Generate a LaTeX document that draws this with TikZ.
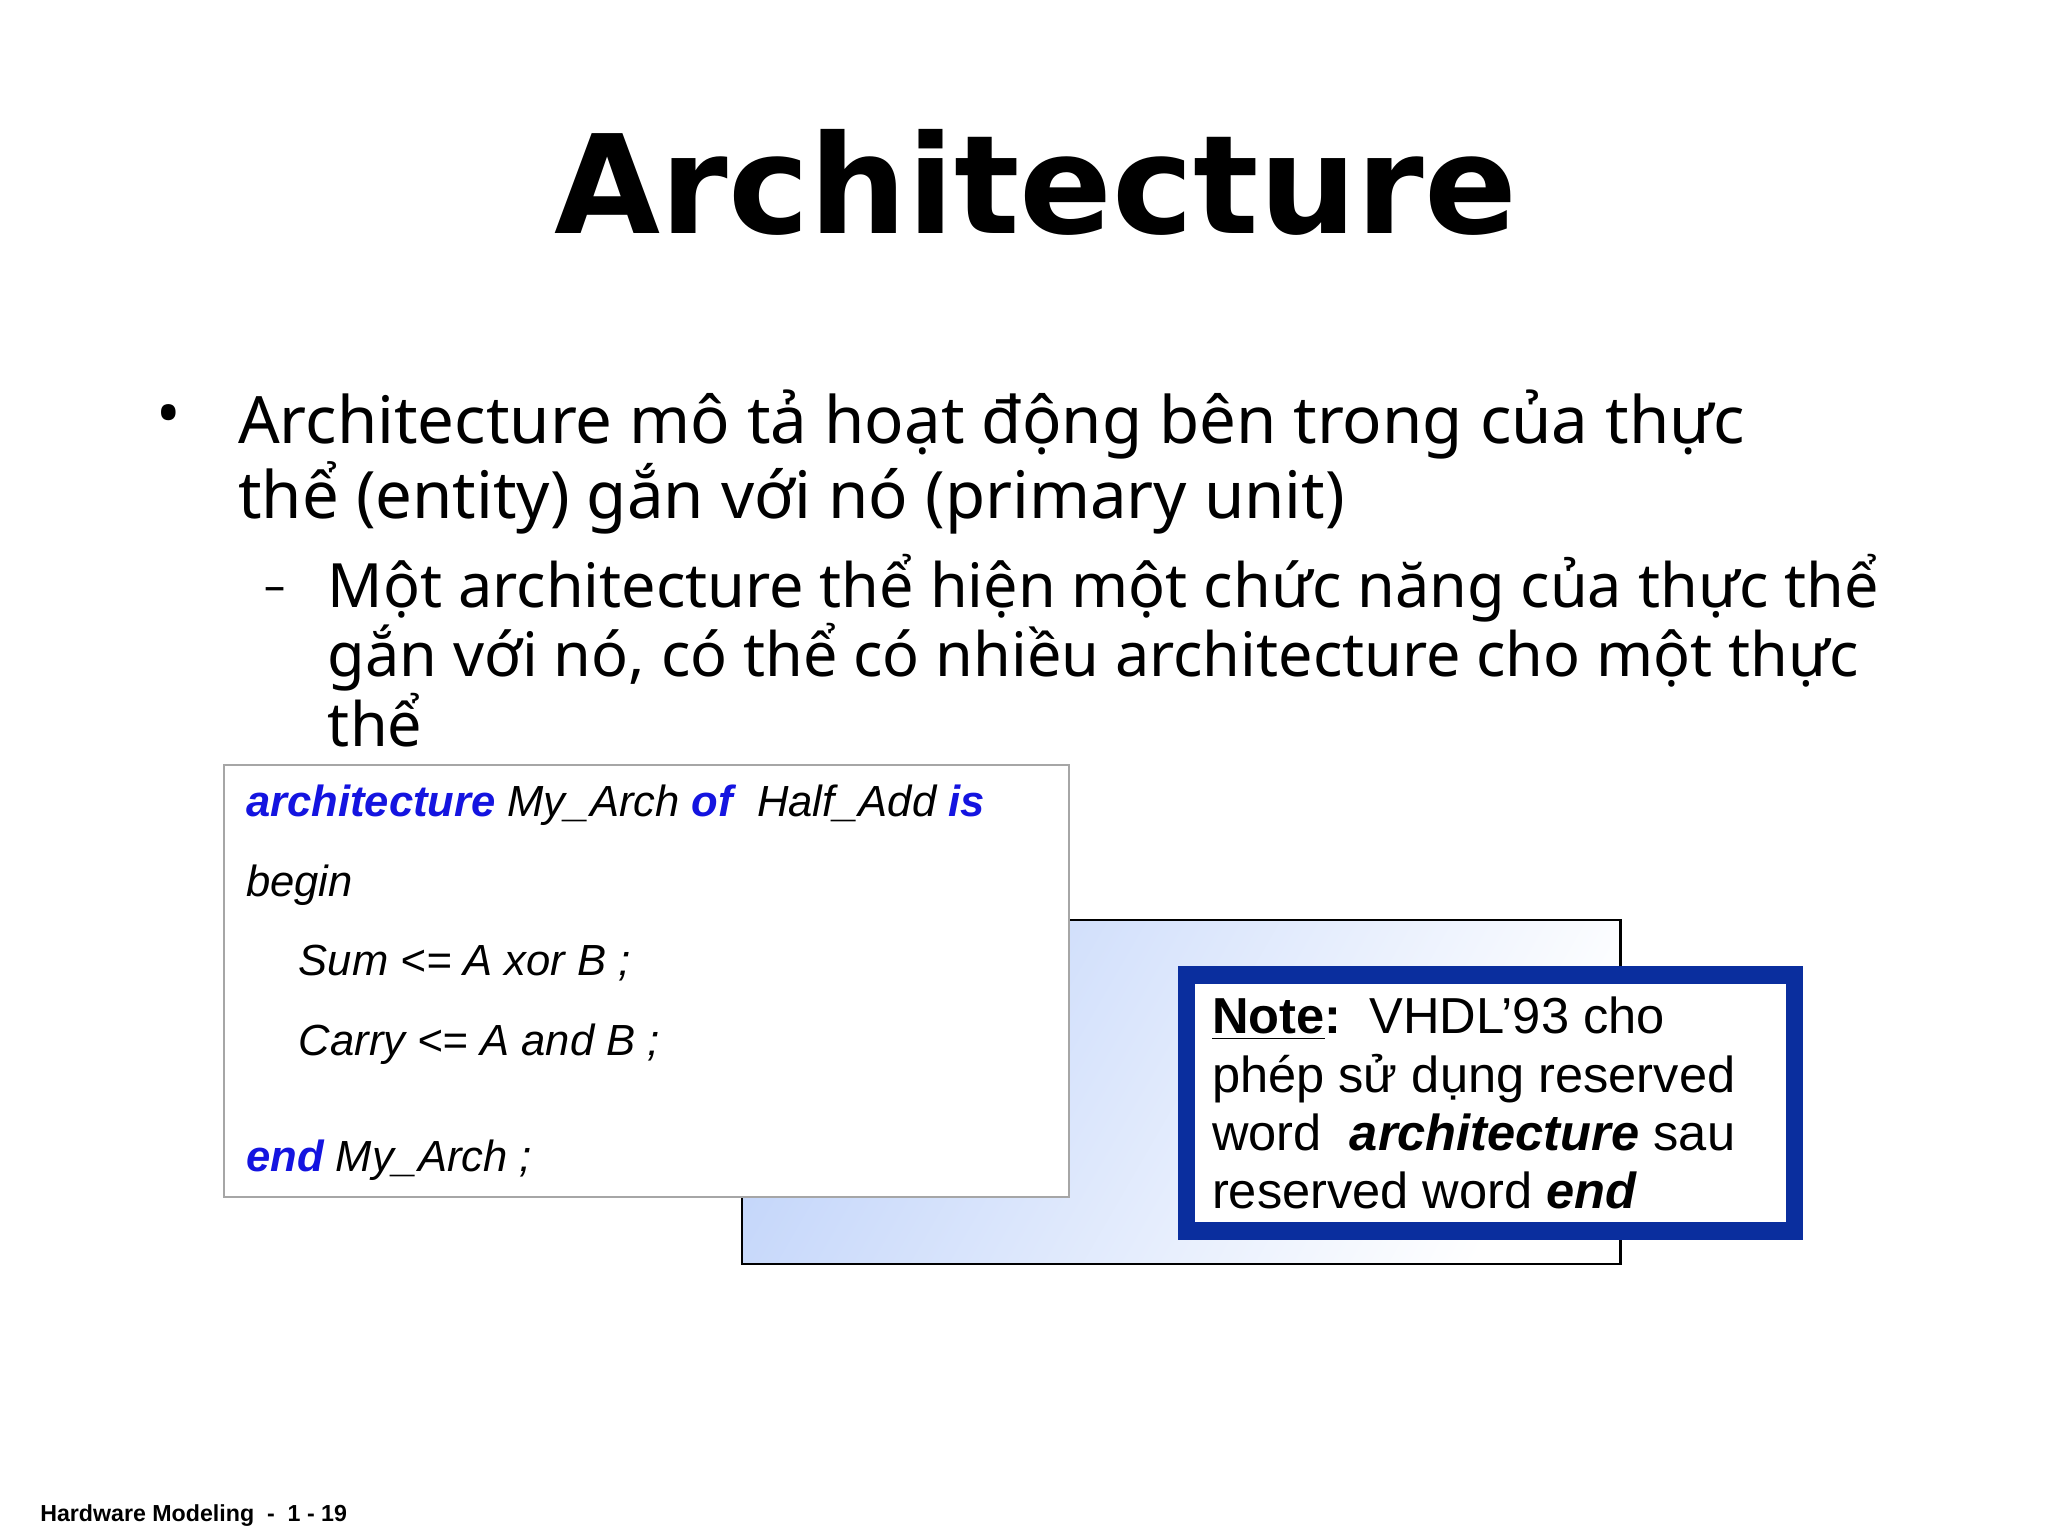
\documentclass[tikz,border=0pt]{standalone}
\usepackage{fontspec}
\setmainfont{Noto Sans}
\newfontfamily\titlefont{DejaVu Sans}
\newfontfamily\arialf{Liberation Sans}
\definecolor{kw}{HTML}{1414E0}
\definecolor{notebd}{HTML}{0A2E9E}
\definecolor{shblue}{HTML}{C4D6FA}
\begin{document}
\begin{tikzpicture}[x=0.013196cm,y=-0.013196cm,
  bul/.style={anchor=base west,inner sep=0pt,font=\fontsize{18.6}{22}\selectfont},
  sub/.style={anchor=base west,inner sep=0pt,font=\fontsize{17.4}{20}\selectfont},
  code/.style={anchor=base west,inner sep=0pt,font=\arialf\itshape\fontsize{12.4}{14}\selectfont},
  note/.style={anchor=base west,inner sep=0pt,font=\arialf\fontsize{14.4}{16}\selectfont}]
\newcommand{\kwd}[1]{\textcolor{kw}{\bfseries #1}}
\useasboundingbox (0,0) rectangle (1552,1164);
\fill[white] (0,0) rectangle (1552,1164);
\node (title) at (785,138) {\titlefont\bfseries\fontsize{39}{44}\selectfont Architecture};
\node[bul] (b) at (118,331) {•};
\node[bul] (l1) at (180,336) {Architecture mô tả hoạt động bên trong của thực};
\node[bul] (l2) at (180,393) {thể (entity) gắn với nó (primary unit)};
\node[sub] (d) at (200,455) {\fontsize{12}{12}\selectfont –};
\node[sub] (s1) at (248,460) {Một architecture thể hiện một chức năng của thực thể};
\node[sub] (s2) at (248,513) {gắn với nó, có thể có nhiều architecture cho một thực};
\node[sub] (s3) at (248,566) {thể};
\shade[draw=black,line width=0.6pt,left color=shblue,right color=white,shading angle=60] (562,697) rectangle (1228,958);
\draw[draw=gray!70,fill=white,line width=0.6pt] (170,580) rectangle (810,907);
\node[code] (c1) at (186,619) {\kwd{architecture} My\_Arch \kwd{of}\ \ Half\_Add \kwd{is}};
\node[code] (c2) at (186,679) {begin};
\node[code] (c3) at (226,739) {Sum <= A xor B ;};
\node[code] (c4) at (226,800) {Carry <= A and B ;};
\node[code] (c5) at (186,888) {\kwd{end} My\_Arch ;};
\draw[draw=notebd,fill=white,line width=5pt] (899,739) rectangle (1360,933);
\node[note] (n1) at (918,783) {\textbf{\underline{Note}:}\ \ VHDL’93 cho};
\node[note] (n2) at (918,828) {phép sử dụng reserved};
\node[note] (n3) at (918,872) {word\ \ \textbf{\itshape architecture} sau};
\node[note] (n4) at (918,916) {reserved word \textbf{\itshape end}};
\node[anchor=base west,inner sep=0pt,font=\arialf\bfseries\fontsize{6.6}{8}\selectfont] (f) at (30,1153) {Hardware Modeling\ \ -\ \ 1 - 19};
\end{tikzpicture}
\end{document}
